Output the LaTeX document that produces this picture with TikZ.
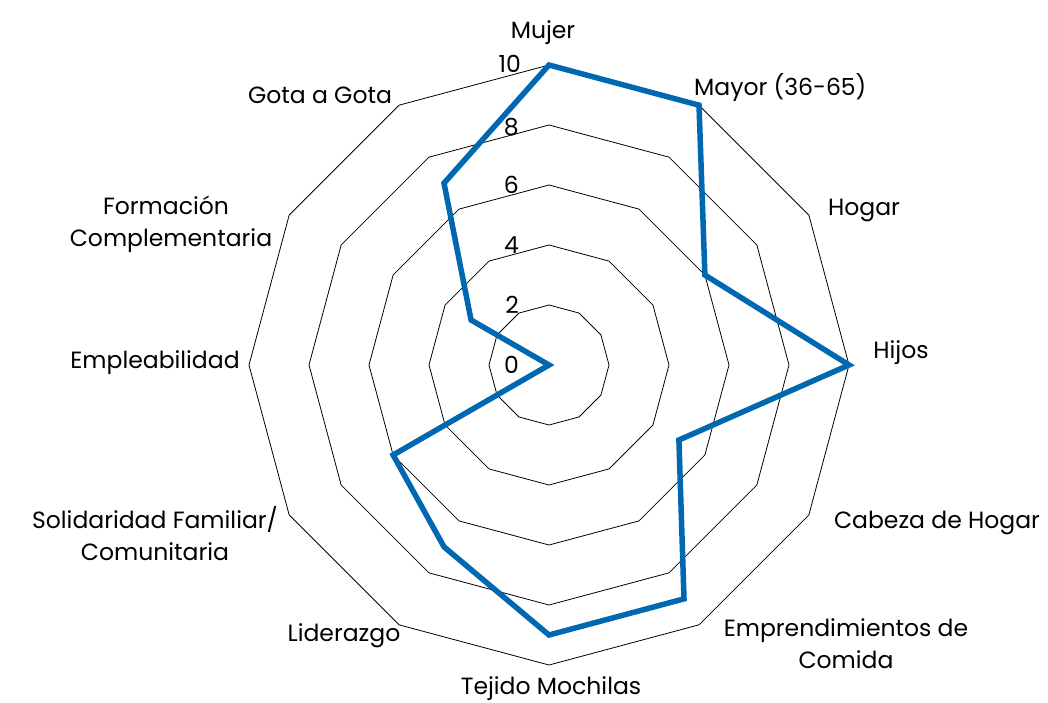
\documentclass[tikz,border=0pt]{standalone}
\usepackage{fontspec}
\setmainfont{Poppins}
\begin{document}
\begin{tikzpicture}[x=1pt,y=-1pt,
  ring/.style={black, line width=0.8pt},
  series/.style={draw={rgb,255:red,0;green,103;blue,177}, line width=5.5pt, line join=miter},
  lab/.style={font=\fontsize{23.5}{32}\selectfont, inner sep=0pt, anchor=base},
  num/.style={font=\fontsize{23.5}{25}\selectfont, inner sep=0pt, anchor=base east}]
\useasboundingbox (0,0) rectangle (1048,702);
\foreach \v in {2,4,6,8,10}{
  \draw[ring] (549,{365-30*\v}) \foreach \k in {1,...,11}{ -- ({549+30*\v*sin(30*\k)},{365-30*\v*cos(30*\k)}) } -- cycle;
}
\foreach \val [count=\k from 0] in {10,10,6,10,5,9,9,7,6,0,3,7}
  \coordinate (p\k) at ({549+30*\val*sin(30*\k)},{365-30*\val*cos(30*\k)});
\draw[series] (p0) -- (p1) -- (p2) -- (p3) -- (p4) -- (p5) -- (p6) -- (p7) -- (p8) -- (p9) -- (p10) -- (p11) -- cycle;
\node[num] (n10) at (521,72) {10};
\node[num] (n8) at (519,135) {8};
\node[num] (n6) at (519,193) {6};
\node[num] (n4) at (519,253) {4};
\node[num] (n2) at (519,313) {2};
\node[num] (n0) at (519,373) {0};
\node[lab] (l0) at (543,38) {Mujer};
\node[lab, anchor=base west] (l1) at (694,95) {Mayor (36-65)};
\node[lab] (l2) at (864,215) {Hogar};
\node[lab] (l3) at (901,358) {Hijos};
\node[lab] (l4) at (937,528) {Cabeza de Hogar};
\node[lab] (l5a) at (846,636) {Emprendimientos de};
\node[lab] (l5b) at (846,668) {Comida};
\node[lab] (l6) at (551,694) {Tejido Mochilas};
\node[lab] (l7) at (344,641) {Liderazgo};
\node[lab] (l8a) at (155,528) {Solidaridad Familiar/};
\node[lab] (l8b) at (155,560) {Comunitaria};
\node[lab] (l9) at (155,368) {Empleabilidad};
\node[lab] (l10a) at (166,214) {Formación};
\node[lab] (l10b) at (171,246) {Complementaria};
\node[lab] (l11) at (320,103) {Gota a Gota};
\end{tikzpicture}
\end{document}
